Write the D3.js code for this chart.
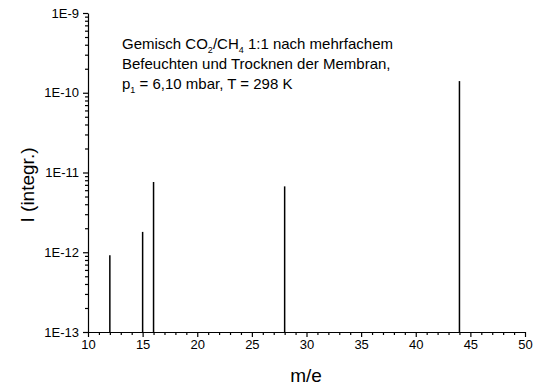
<!DOCTYPE html>
<html>
<head>
<meta charset="utf-8">
<script src="https://d3js.org/d3.v7.min.js"></script>
<style>
body { margin: 0; background: #fff; font-family: "Liberation Sans", Arial, sans-serif; }
svg { display: block; }
.tick text { font-size: 13px; font-family: "Liberation Sans", Arial, sans-serif; fill: #000; }
</style>
</head>
<body>
<svg width="539" height="392"></svg>
<script>
// peaks
var masses = [12, 15, 16, 28, 44];
var intens = [9.2e-13, 1.8e-12, 7.6e-12, 6.7e-12, 1.4e-10];
var xTicks = [10, 15, 20, 25, 30, 35, 40, 45, 50];
var yTicks = [1e-13, 1e-12, 1e-11, 1e-10, 1e-9];

var svg = d3.select("svg");

var x = d3.scaleLinear().domain([10, 50]).range([88, 525]);
var y = d3.scaleLog().domain([1e-13, 1e-9]).range([332, 13]);

// bottom axis, majors + minors
var xAxis = d3.axisBottom(x).tickValues(xTicks).tickSize(5).tickSizeOuter(0).tickPadding(3);
svg.append("g").attr("transform", "translate(0,332)").call(xAxis);
svg.append("g").attr("transform", "translate(0,332)")
  .call(d3.axisBottom(x).tickValues(d3.range(10, 51).filter(function (v) { return v % 5; }))
    .tickSize(3).tickSizeOuter(0).tickFormat(""))
  .call(function (g) { g.select(".domain").remove(); });

// left axis
function fmt(v) { return "1E" + Math.round(Math.log10(v)); }
var yAxis = d3.axisLeft(y).tickValues(yTicks).tickFormat(fmt).tickSize(5).tickSizeOuter(0).tickPadding(4);
svg.append("g").attr("transform", "translate(88,0)").call(yAxis);
var minors = [];
for (var e = -13; e < -9; e++) for (var m = 2; m <= 9; m++) minors.push(m * Math.pow(10, e));
svg.append("g").attr("transform", "translate(88,0)")
  .call(d3.axisLeft(y).tickValues(minors).tickSize(3).tickSizeOuter(0).tickFormat(""))
  .call(function (g) { g.select(".domain").remove(); });

svg.selectAll("g line, g path").attr("stroke", "#000").attr("stroke-width", 1.2);

// peak lines
svg.selectAll("line.peak").data(masses).enter().append("line")
  .attr("class", "peak")
  .attr("x1", function (d) { return x(d); }).attr("x2", function (d) { return x(d); })
  .attr("y1", y(1e-13))
  .attr("y2", function (d, i) { return y(intens[i]); })
  .attr("stroke", "#000").attr("stroke-width", 1.5);

// axis titles
svg.append("text").attr("x", 306).attr("y", 382).attr("text-anchor", "middle")
  .attr("font-size", 19).text("m/e");
svg.append("text").attr("transform", "translate(34,185) rotate(-90)").attr("text-anchor", "middle")
  .attr("font-size", 19).text("I (integr.)");

// annotation
var note = svg.append("text").attr("font-size", 15);
var l1 = note.append("tspan").attr("x", 122).attr("y", 49);
l1.append("tspan").text("Gemisch CO");
l1.append("tspan").attr("font-size", 9).attr("dy", 4).text("2");
l1.append("tspan").attr("dy", -4).text("/CH");
l1.append("tspan").attr("font-size", 9).attr("dy", 4).text("4");
l1.append("tspan").attr("dy", -4).text(" 1:1 nach mehrfachem");
note.append("tspan").attr("x", 122).attr("y", 69).text("Befeuchten und Trocknen der Membran,");
var l3 = note.append("tspan").attr("x", 122).attr("y", 89);
l3.append("tspan").text("p");
l3.append("tspan").attr("font-size", 9).attr("dy", 4).text("1");
l3.append("tspan").attr("dy", -4).text(" = 6,10  mbar, T = 298 K");
</script>
</body>
</html>
